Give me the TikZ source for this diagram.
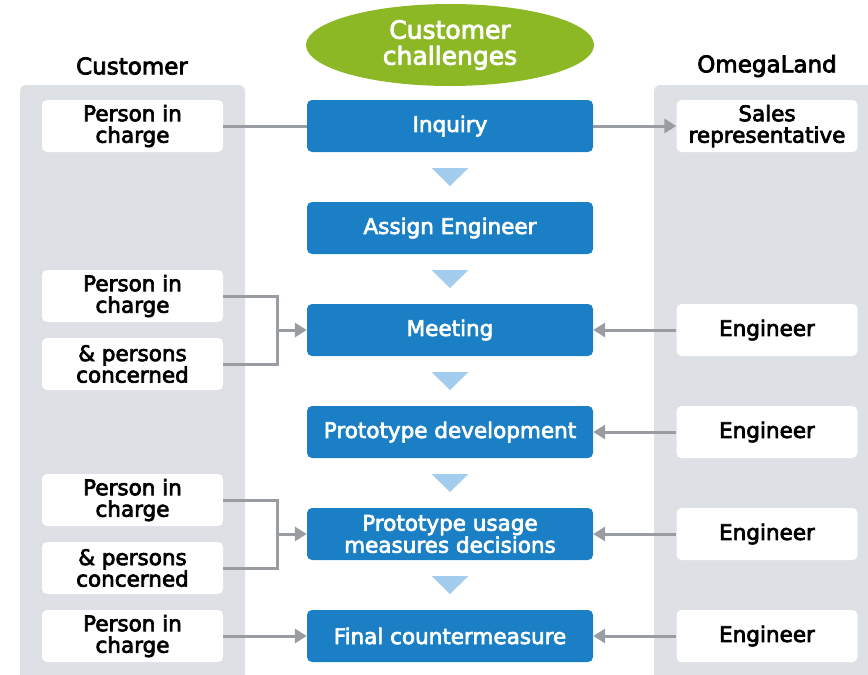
\documentclass[tikz,border=0pt]{standalone}
\usepackage{fontspec}
\setmainfont{DejaVu Sans}[FakeBold=3.2]
\usetikzlibrary{arrows.meta,shapes.geometric}
\definecolor{stepblue}{HTML}{1A7FC4}
\definecolor{leafgreen}{HTML}{8DB826}
\definecolor{panelgray}{HTML}{DDE1E5}
\definecolor{conngray}{HTML}{999DA1}
\definecolor{tripale}{HTML}{A3CDEE}
\tikzset{
  whitebox/.style={fill=white, rounded corners=5pt, minimum width=181pt, minimum height=52pt,
    inner sep=0pt, align=center, font=\fontsize{21.5}{21.5}\selectfont},
  bluebox/.style={fill=stepblue, text=white, rounded corners=5pt, minimum width=286pt,
    minimum height=52pt, inner sep=0pt, align=center, font=\fontsize{21.5}{22}\selectfont},
  header/.style={font=\fontsize{23}{24}\selectfont},
  conn/.style={draw=conngray, line width=3pt},
  arr/.style={conn, -{Triangle[length=12pt,width=14pt]}},
  tri/.style={fill=tripale}
}
\begin{document}
\begin{tikzpicture}[x=1pt,y=-1pt]
\useasboundingbox (0,0) rectangle (868,675);
\begin{scope}
\clip (0,0) rectangle (868,675);
\fill[panelgray, rounded corners=6pt] (20,85) rectangle (245,700);
\fill[panelgray, rounded corners=6pt] (654,85) rectangle (890,700);
\end{scope}

\node[header] (hc) at (132,66) {Customer};
\node[header] (ho) at (767,66) {OmegaLand};

\node[ellipse, fill=leafgreen, text=white, minimum width=288pt, minimum height=82pt, inner sep=0pt,
  align=center, font=\fontsize{25}{26}\selectfont] (ch) at (450,45) {Customer\\challenges};

% blue steps
\node[bluebox] (b1) at (450,126) {Inquiry};
\node[bluebox] (b2) at (450,228) {Assign Engineer};
\node[bluebox] (b3) at (450,330) {Meeting};
\node[bluebox] (b4) at (450,432) {Prototype development};
\node[bluebox] (b5) at (450,534) {Prototype usage\\measures decisions};
\node[bluebox] (b6) at (450,636) {Final countermeasure};

% triangles
\foreach \yy in {177,279,381,483,585}
  \fill[tri] (431.5,\yy-9) -- (468.5,\yy-9) -- (450,\yy+9) -- cycle;

% customer side
\node[whitebox] (l1) at (132.5,126) {Person in\\charge};
\node[whitebox] (l2) at (132.5,296) {Person in\\charge};
\node[whitebox] (l3) at (132.5,364) {\&\ persons\\concerned};
\node[whitebox] (l4) at (132.5,500) {Person in\\charge};
\node[whitebox] (l5) at (132.5,568) {\&\ persons\\concerned};
\node[whitebox] (l6) at (132.5,636) {Person in\\charge};

% OmegaLand side
\node[whitebox] (r1) at (767,126) {Sales\\representative};
\node[whitebox] (r3) at (767,330) {Engineer};
\node[whitebox] (r4) at (767,432) {Engineer};
\node[whitebox] (r5) at (767,534) {Engineer};
\node[whitebox] (r6) at (767,636) {Engineer};

% connectors
\draw[conn] (l1.east) -- (b1.west);
\draw[arr] (b1.east) -- (r1.west);

\coordinate (j3) at (277,330);
\draw[conn] (l2.east) -| (j3);
\draw[conn] (l3.east) -| (j3);
\draw[arr] (j3) -- (b3.west);

\coordinate (j5) at (277,534);
\draw[conn] (l4.east) -| (j5);
\draw[conn] (l5.east) -| (j5);
\draw[arr] (j5) -- (b5.west);

\draw[arr] (l6.east) -- (b6.west);

\draw[arr] (r3.west) -- (b3.east);
\draw[arr] (r4.west) -- (b4.east);
\draw[arr] (r5.west) -- (b5.east);
\draw[arr] (r6.west) -- (b6.east);
\end{tikzpicture}
\end{document}
